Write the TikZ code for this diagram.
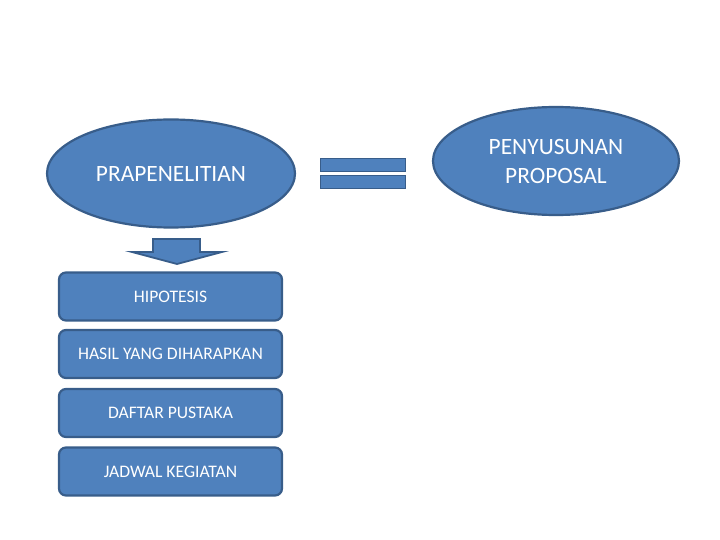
\documentclass[tikz,border=0pt]{standalone}
\usepackage{fontspec}
\setmainfont{Carlito}
\usetikzlibrary{shapes.geometric}
\definecolor{fillblue}{HTML}{4F81BD}
\definecolor{edgeblue}{HTML}{385D8A}
\begin{document}
\begin{tikzpicture}[x=1pt,y=-1pt,
  shapebase/.style={fill=fillblue,draw=edgeblue,line width=2.2pt,text=white},
  oval/.style={shapebase,ellipse,inner sep=0pt,font=\fontsize{23.4}{29}\selectfont,align=center},
  itembox/.style={shapebase,rounded corners=7pt,minimum width=223pt,minimum height=48pt,inner sep=0pt,font=\fontsize{17.6}{21}\selectfont},
  bar/.style={shapebase,line width=1.8pt,minimum width=85pt,minimum height=13pt,inner sep=0pt}]
\useasboundingbox (0,0) rectangle (720,540);
\node[oval,minimum width=248pt,minimum height=108pt] (pra) at (171,173.5) {PRAPENELITIAN};
\node[oval,minimum width=246pt,minimum height=108pt] (pen) at (556,161) {PENYUSUNAN\\PROPOSAL};
\node[bar] (eqtop) at (363,165) {};
\node[bar] (eqbot) at (363,182) {};
\draw[shapebase,line width=1.8pt,line join=miter] (153,239) -- (200,239) -- (200,252) -- (222,252) -- (177,264) -- (132,252) -- (153,252) -- cycle;
\node[itembox] (hip) at (170.5,296.5) {HIPOTESIS};
\node[itembox] (has) at (170.5,354) {HASIL YANG DIHARAPKAN};
\node[itembox] (daf) at (170.5,413) {DAFTAR PUSTAKA};
\node[itembox] (jad) at (170.5,471.5) {JADWAL KEGIATAN};
\end{tikzpicture}
\end{document}
